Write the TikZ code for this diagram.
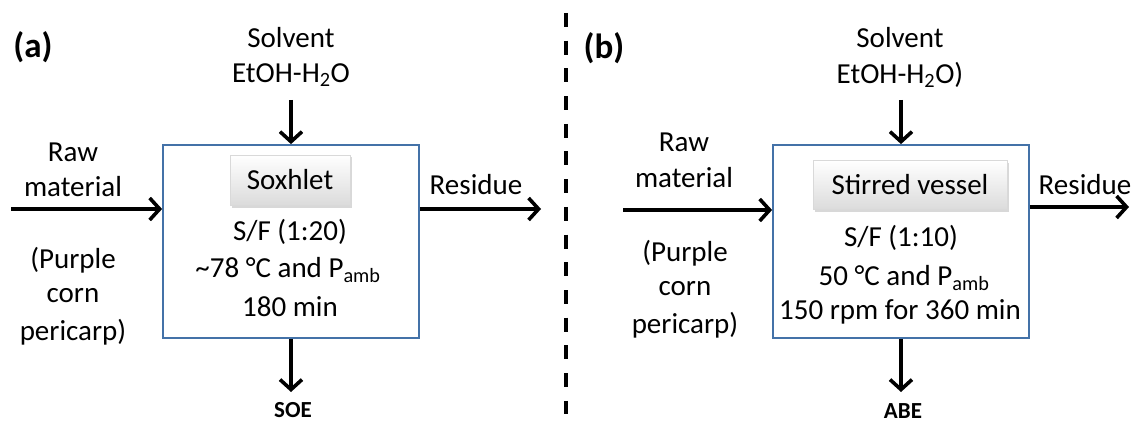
\documentclass[tikz,border=0pt]{standalone}
\usepackage{fontspec}
\setmainfont{Carlito}
\usetikzlibrary{arrows.meta,shadows}
\definecolor{boxblue}{HTML}{4472A8}
\tikzset{
  proc/.style={draw=boxblue, line width=1.8pt, fill=white, inner sep=0pt},
  lbl/.style={font=\fontsize{29}{33}\selectfont, inner sep=0pt, anchor=center},
  flow/.style={line width=3.6pt, -{Straight Barb[length=10pt,width=22pt,line width=3.6pt]}},
  tag/.style={top color=white, bottom color=gray!28, draw=gray!30, line width=0.5pt, drop shadow={opacity=0.3,shadow xshift=1.5pt,shadow yshift=-2.5pt}, font=\fontsize{29}{33}\selectfont, inner sep=0pt},
  panel/.style={font=\fontsize{35}{40}\selectfont\bfseries, inner sep=0pt},
  product/.style={font=\fontsize{23}{27}\selectfont\bfseries, inner sep=0pt}
}
\begin{document}
\begin{tikzpicture}[x=1pt,y=-1pt]
\useasboundingbox (0,0) rectangle (1131,422);
% ---------- (a) ----------
\node[panel] (la) at (33,47) {(a)};
\node[proc, minimum width=256pt, minimum height=193pt] (boxa) at (291,241.5) {};
\node[tag, minimum width=120pt, minimum height=50pt] (soxa) at (290,180) {Soxhlet};
\node[lbl] (a1) at (290,232) {S/F (1:20)};
\node[lbl] (a2) at (288,270) {\textasciitilde 78 °C and P\textsubscript{amb}};
\node[lbl] (a3) at (290,307) {180 min};
\node[lbl] (sola) at (291,38) {Solvent};
\node[lbl] (eta) at (291,75) {EtOH-H\textsubscript{2}O};
\coordinate (ina) at (291,100);
\draw[flow] (ina) -- (boxa.north);
\node[lbl] (rawa) at (73,152) {Raw};
\node[lbl] (mata) at (73,187) {material};
\coordinate (lefta) at (11,209);
\draw[flow] (lefta) -- (boxa.west |- lefta);
\node[lbl] (pa1) at (73,260) {(Purple};
\node[lbl] (pa2) at (73,296) {corn};
\node[lbl] (pa3) at (73,332) {pericarp)};
\node[lbl] (resa) at (476,185) {Residue};
\coordinate (outa) at (541,209);
\draw[flow] (boxa.east |- outa) -- (outa);
\coordinate (downa) at (291,392);
\draw[flow] (boxa.south) -- (downa);
\node[product] (soe) at (293,410) {SOE};
% ---------- divider ----------
\coordinate (d1) at (566,13);
\coordinate (d2) at (566,414);
\draw[line width=4pt, dash pattern=on 14pt off 13.7pt] (d1) -- (d2);
% ---------- (b) ----------
\node[panel] (lb) at (604,48) {(b)};
\node[proc, minimum width=256pt, minimum height=193pt] (boxb) at (901,241.5) {};
\node[tag, minimum width=194pt, minimum height=49pt] (stir) at (910,185) {Stirred vessel};
\node[lbl] (b1) at (901,238) {S/F (1:10)};
\node[lbl] (b2) at (904,278) {50 °C and P\textsubscript{amb}};
\node[lbl] (b3) at (900,312) {150 rpm for 360 min};
\node[lbl] (solb) at (900,38) {Solvent};
\node[lbl] (etb) at (900,75) {EtOH-H\textsubscript{2}O)};
\coordinate (inb) at (901,100);
\draw[flow] (inb) -- (boxb.north);
\node[lbl] (rawb) at (684,142) {Raw};
\node[lbl] (matb) at (684,178) {material};
\coordinate (leftb) at (623,210);
\draw[flow] (leftb) -- (boxb.west |- leftb);
\node[lbl] (pb1) at (685,253) {(Purple};
\node[lbl] (pb2) at (685,289) {corn};
\node[lbl] (pb3) at (685,325) {pericarp)};
\node[lbl] (resb) at (1085,185) {Residue};
\coordinate (outb) at (1129,207);
\draw[flow] (boxb.east |- outb) -- (outb);
\coordinate (downb) at (901,392);
\draw[flow] (boxb.south) -- (downb);
\node[product] (abe) at (903,411) {ABE};
\end{tikzpicture}
\end{document}
